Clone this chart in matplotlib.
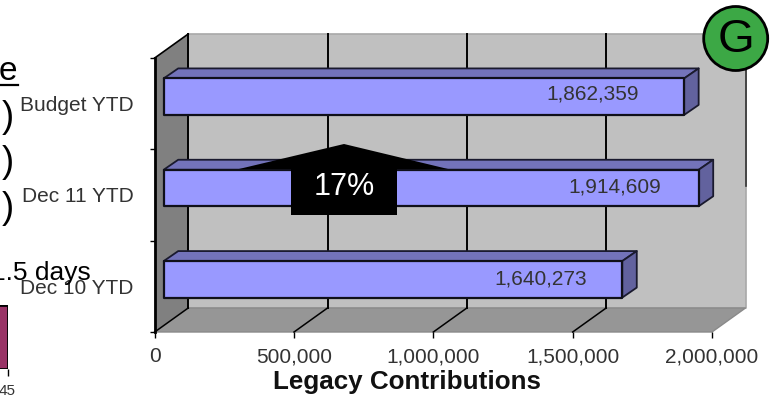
import matplotlib
matplotlib.use("Agg")
import matplotlib.pyplot as plt
from matplotlib.patches import Circle, Polygon

plt.rcParams["font.family"] = ["Liberation Sans", "DejaVu Sans"]

W, H = 771, 395

categories = ["Dec 10 YTD", "Dec 11 YTD", "Budget YTD"]
contributions = [1640273, 1914609, 1862359]
x_ticks = [0, 500000, 1000000, 1500000, 2000000]
change_label = "17%"
side_values = [45]

TEXT = "#333333"
FRONT, TOP, SIDE = "#9999ff", "#7373ba", "#62629e"


def box(x0, y0, x1, y1):
    """Figure-fraction rectangle from pixel corners (y counted from the top)."""
    return [x0 / W, 1 - y1 / H, (x1 - x0) / W, (y1 - y0) / H]


fig = plt.figure(figsize=(W / 100, H / 100), dpi=100)

# ── Main 3-D style bar chart ──────────────────────────────────────────────
ax = fig.add_axes(box(154.7, 58, 712, 332))
ax.set_xlim(0, 2000000)
ax.set_ylim(-0.5, 2.5)
ax.patch.set_alpha(0)
for s in ax.spines.values():
    s.set_visible(False)

# pixel sizes converted to data units
ux = 2000000 / 557.3
uy = 3 / 274
wall_dx, wall_dy = 33.5 * ux, 24 * uy
bar_dx, bar_dy = 14.5 * ux, 10 * uy
bar_x0, bar_y0 = 9 * ux, 7 * uy
bar_end = 10.5 * ux
bar_h = 36.5 * uy
x_max = x_ticks[-1]


def face(pts, color, z, edge="none", lw=0):
    ax.add_patch(Polygon(pts, closed=True, fc=color, ec=edge, lw=lw, zorder=z,
                         clip_on=False, joinstyle="round"))


y_lo, y_hi = -0.5, 2.5
face([(wall_dx, y_lo + wall_dy), (x_max + wall_dx, y_lo + wall_dy),
      (x_max + wall_dx, y_hi + wall_dy), (wall_dx, y_hi + wall_dy)],
     "#c0c0c0", 1, "#a8a8a8", 1.2)
face([(0, y_lo), (wall_dx, y_lo + wall_dy), (wall_dx, y_hi + wall_dy), (0, y_hi)],
     "#808080", 1.1)
face([(0, y_lo), (x_max, y_lo), (x_max + wall_dx, y_lo + wall_dy),
      (wall_dx, y_lo + wall_dy)], "#969696", 1.1, "#8a8a8a", 1)

# gridlines on the back wall and across the floor
for t in x_ticks[:-1]:
    ax.plot([t + wall_dx] * 2, [y_lo + wall_dy, y_hi + wall_dy],
            color="black", lw=1.4, zorder=2, clip_on=False)
    ax.plot([t, t + wall_dx], [y_lo, y_lo + wall_dy],
            color="black", lw=1.1, zorder=2, clip_on=False)
ax.plot([x_max + wall_dx] * 2, [1.1, y_hi + wall_dy], color="#333333", lw=1.2,
        zorder=2, clip_on=False)
ax.plot([0, wall_dx], [y_hi, y_hi + wall_dy], color="black", lw=1.2, zorder=2,
        clip_on=False)
ax.plot([0, 0], [y_lo, y_hi], color="black", lw=2, zorder=3, clip_on=False)

# bars: front, top and end faces
label_gaps = [35, 38, 45]
label_lift = [0, 1, 3]
for i, (cat, val) in enumerate(zip(categories, contributions)):
    x0, x1 = bar_x0, val + bar_end
    y0, y1 = i + bar_y0 - bar_h / 2, i + bar_y0 + bar_h / 2
    face([(x0, y1), (x1, y1), (x1 + bar_dx, y1 + bar_dy), (x0 + bar_dx, y1 + bar_dy)],
         TOP, 4, "#1a1a2e", 1.3)
    face([(x1, y0), (x1 + bar_dx, y0 + bar_dy), (x1 + bar_dx, y1 + bar_dy), (x1, y1)],
         SIDE, 4, "#1a1a2e", 1.3)
    face([(x0, y0), (x1, y0), (x1, y1), (x0, y1)], FRONT, 5, "#10101a", 1.6)
    ax.text(x1 - label_gaps[i] * ux, i + bar_y0 + label_lift[i] * uy, f"{val:,}",
            ha="right", va="center", fontsize=15, color=TEXT, zorder=6)

ax.set_xticks(x_ticks, [f"{t:,}" for t in x_ticks])
ax.set_yticks(range(len(categories)), categories)
ax.set_yticks([-0.5, 0.5, 1.5, 2.5], minor=True)
ax.tick_params(axis="y", which="major", length=0, pad=15, labelsize=15, labelcolor=TEXT)
ax.tick_params(axis="y", which="minor", length=3.5, width=1, left=True)
ax.tick_params(axis="x", length=4, width=1, pad=7, labelsize=15, labelcolor=TEXT)
ax.set_xlabel("Legacy Contributions", fontsize=18.7, fontweight="bold", labelpad=3,
              color="#111111", x=0.452)

# ── Clipped bar from the neighbouring chart ───────────────────────────────
side_ax = fig.add_axes(box(0, 305, 7.5, 369))
side_ax.set_xlim(44, 45)
side_ax.set_ylim(0, 1)
side_ax.barh([0.5], side_values, left=0, height=1, color="#993366",
              edgecolor="black", lw=2)
side_ax.set_yticks([])
side_ax.set_xticks(side_values, [str(v) for v in side_values])
side_ax.tick_params(axis="x", length=5, width=1, pad=6, labelsize=11, labelcolor=TEXT)
for s in side_ax.spines.values():
    s.set_visible(False)

# ── Overlay in pixel coordinates: callout, status badge, slide text ───────
ov = fig.add_axes([0, 0, 1, 1], zorder=10)
ov.set_xlim(0, W)
ov.set_ylim(H, 0)
ov.axis("off")

ov.add_patch(Polygon([(239, 169), (344, 144), (448, 169), (397, 169), (397, 215),
                      (291, 215), (291, 169)], closed=True, fc="black", ec="none"))
ov.text(344, 187, change_label, ha="center", va="center", fontsize=22, color="white")

ov.add_patch(Circle((735.7, 38.5), 32, fc="#3ca845", ec="black", lw=2))
ov.text(735.5, 40.5, "G", ha="center", va="center", fontsize=34, color="black")

ov.text(-1, 80, "e", ha="left", va="baseline", fontsize=24, color="black")
ov.plot([0, 18], [85, 85], color="black", lw=1.6)
for y in (127, 172, 218):
    ov.text(14, y, ")", ha="right", va="baseline", fontsize=26, color="black")
ov.text(91, 280, "1.5 days", ha="right", va="baseline", fontsize=19, color="black")

fig.savefig("out.png", dpi=100)
plt.close(fig)
